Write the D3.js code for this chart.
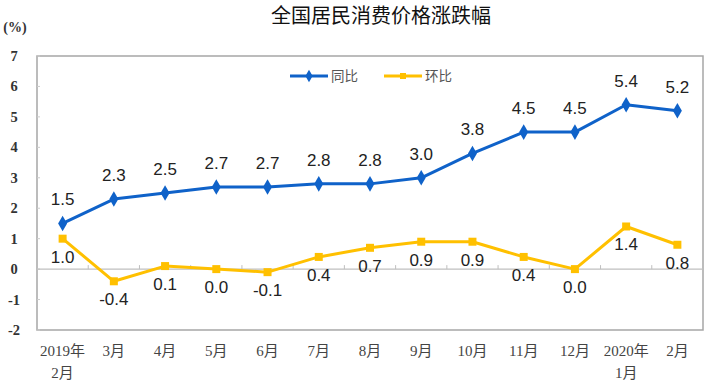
<!DOCTYPE html>
<html>
<head>
<meta charset="utf-8">
<script src="https://cdn.jsdelivr.net/npm/d3@7"></script>
<style>
  body { margin: 0; background: #fff; }
  svg { display: block; }
</style>
</head>
<body>
<svg id="chart" width="713" height="386"></svg>
<script>
// months on the x axis (second line only used by the two year labels)
var months = ['2019年', '3月', '4月', '5月', '6月', '7月', '8月', '9月', '10月', '11月', '12月', '2020年', '2月'];
var months2 = ['2月', '', '', '', '', '', '', '', '', '', '', '1月', ''];
var yoy = [1.5, 2.3, 2.5, 2.7, 2.7, 2.8, 2.8, 3.0, 3.8, 4.5, 4.5, 5.4, 5.2];   // 同比
var mom = [1.0, -0.4, 0.1, 0.0, -0.1, 0.4, 0.7, 0.9, 0.9, 0.4, 0.0, 1.4, 0.8]; // 环比
var yTicks = [7, 6, 5, 4, 3, 2, 1, 0, -1, -2];

var blue = '#0f62c9', yellow = '#ffc000';
// note: "top" is taken by window.top, so plot edges get their own names
var plotL = 37, plotR = 703, plotT = 56, plotB = 330;
var serifCJK = "'Liberation Serif', 'Noto Sans CJK SC'";

var svg = d3.select('#chart');

var x = d3.scaleBand().domain(d3.range(months.length)).range([plotL, plotR]);
var y = d3.scaleLinear().domain([-2, 7]).range([plotB, plotT]);
var cx = function (i) { return x(i) + x.bandwidth() / 2; };

// title
svg.append('text').attr('x', 381).attr('y', 23).attr('text-anchor', 'middle')
  .attr('font-family', 'Noto Sans CJK SC').attr('font-size', 20).attr('fill', '#111')
  .text('全国居民消费价格涨跌幅');

svg.append('text').attr('x', 15).attr('y', 32).attr('text-anchor', 'middle')
  .attr('font-family', 'Liberation Serif').attr('font-weight', 'bold').attr('font-size', 14).attr('fill', '#333')
  .text('(%)');

// plot frame
svg.append('rect').attr('x', plotL).attr('y', plotT).attr('width', plotR - plotL).attr('height', plotB - plotT)
  .attr('fill', 'none').attr('stroke', '#a6a6a6').attr('stroke-width', 1.5);

// y ticks + labels
yTicks.forEach(function (t) {
  svg.append('line').attr('x1', plotL).attr('x2', plotL + 3).attr('y1', y(t)).attr('y2', y(t))
    .attr('stroke', '#ccc');
  svg.append('text').attr('x', 14).attr('y', y(t) + 5).attr('text-anchor', 'middle')
    .attr('font-family', 'Liberation Serif').attr('font-weight', 'bold').attr('font-size', 14.5).attr('fill', '#333')
    .text(t);
});

// zero line with small ticks at band edges
svg.append('line').attr('x1', plotL).attr('x2', plotR).attr('y1', y(0)).attr('y2', y(0))
  .attr('stroke', '#bfbfbf').attr('stroke-width', 1.2);
d3.range(1, months.length).forEach(function (i) {
  svg.append('line').attr('x1', x(i)).attr('x2', x(i)).attr('y1', y(0)).attr('y2', y(0) - 4)
    .attr('stroke', '#bfbfbf');
});

// x labels
months.forEach(function (m, i) {
  svg.append('text').attr('x', cx(i)).attr('y', 356).attr('text-anchor', 'middle')
    .attr('font-family', serifCJK).attr('font-size', 15).attr('fill', '#444').text(m);
  if (months2[i]) {
    svg.append('text').attr('x', cx(i)).attr('y', 378).attr('text-anchor', 'middle')
      .attr('font-family', serifCJK).attr('font-size', 15).attr('fill', '#444').text(months2[i]);
  }
});

var line = d3.line().x(function (d, i) { return cx(i); }).y(function (d) { return y(d); });

// 环比 series
svg.append('path').datum(mom).attr('d', line).attr('fill', 'none')
  .attr('stroke', yellow).attr('stroke-width', 3).attr('stroke-linejoin', 'round');
svg.selectAll('.momPt').data(mom).enter().append('rect').attr('class', 'momPt')
  .attr('x', function (d, i) { return cx(i) - 4; }).attr('y', function (d) { return y(d) - 4; })
  .attr('width', 8).attr('height', 8).attr('fill', yellow);
svg.selectAll('.momLbl').data(mom).enter().append('text').attr('class', 'momLbl')
  .attr('x', function (d, i) { return cx(i); }).attr('y', function (d) { return y(d) + 24; })
  .attr('text-anchor', 'middle').attr('font-family', 'Liberation Sans').attr('font-size', 17).attr('fill', '#222')
  .text(function (d) { return d.toFixed(1); });

// 同比 series
svg.append('path').datum(yoy).attr('d', line).attr('fill', 'none')
  .attr('stroke', blue).attr('stroke-width', 3).attr('stroke-linejoin', 'round');
svg.selectAll('.yoyPt').data(yoy).enter().append('path').attr('class', 'yoyPt')
  .attr('d', d3.symbol(d3.symbolDiamond, 70))
  .attr('transform', function (d, i) { return 'translate(' + cx(i) + ',' + y(d) + ')'; })
  .attr('fill', blue);
svg.selectAll('.yoyLbl').data(yoy).enter().append('text').attr('class', 'yoyLbl')
  .attr('x', function (d, i) { return cx(i); }).attr('y', function (d) { return y(d) - 18; })
  .attr('text-anchor', 'middle').attr('font-family', 'Liberation Sans').attr('font-size', 17).attr('fill', '#222')
  .text(function (d) { return d.toFixed(1); });

// legend
var legend = [{name: '同比', color: blue, x: 290, diamond: true}, {name: '环比', color: yellow, x: 384, diamond: false}];
legend.forEach(function (l) {
  svg.append('line').attr('x1', l.x).attr('x2', l.x + 38).attr('y1', 76).attr('y2', 76)
    .attr('stroke', l.color).attr('stroke-width', 3);
  if (l.diamond) {
    svg.append('path').attr('d', d3.symbol(d3.symbolDiamond, 45)).attr('transform', 'translate(' + (l.x + 19) + ',76)')
      .attr('fill', l.color);
  } else {
    svg.append('rect').attr('x', l.x + 16).attr('y', 73).attr('width', 6).attr('height', 6).attr('fill', l.color);
  }
  svg.append('text').attr('x', l.x + 41).attr('y', 81)
    .attr('font-family', 'Noto Sans CJK SC').attr('font-size', 13.5).attr('fill', '#555').text(l.name);
});
</script>
</body>
</html>
